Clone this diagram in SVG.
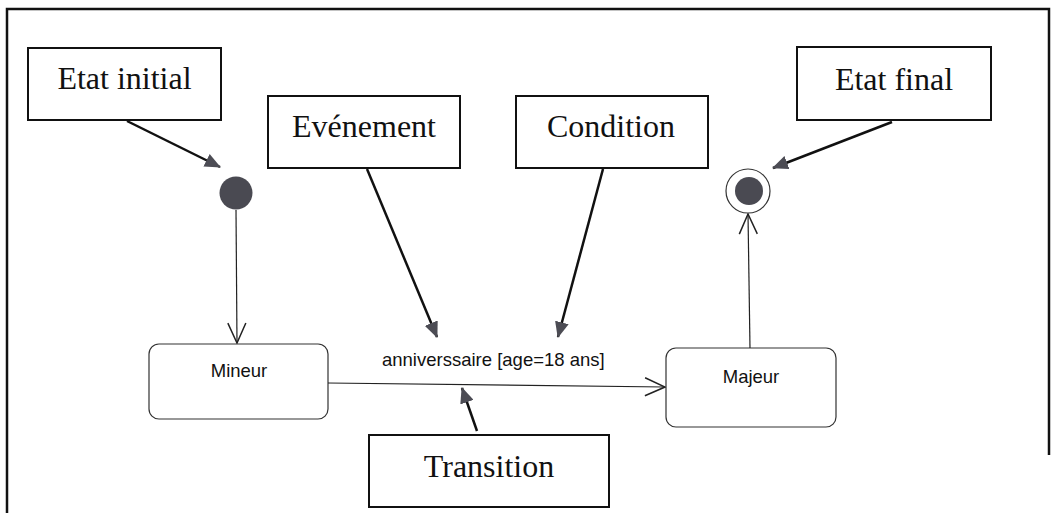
<svg xmlns="http://www.w3.org/2000/svg" width="1053" height="513" viewBox="0 0 1053 513">
  <style>
    .frame { fill: none; stroke: #111; stroke-width: 2.5; }
    .note rect { fill: #fff; stroke: #111; stroke-width: 2; }
    .note text { font-family: "Liberation Serif", "Times New Roman", serif; font-size: 32px; fill: #111; text-anchor: middle; }
    .state rect { fill: #fff; stroke: #333; stroke-width: 1.2; }
    .state text, .label { font-family: "Liberation Sans", Arial, sans-serif; font-size: 18.5px; fill: #111; }
    .state text { text-anchor: middle; }
    .pointer { stroke: #111; stroke-width: 2.5; fill: none; marker-end: url(#solid); }
    .trans { stroke: #222; stroke-width: 1.2; fill: none; marker-end: url(#open); }
  </style>
  <defs>
    <marker id="solid" viewBox="0 0 16 14" refX="15" refY="7" markerWidth="16" markerHeight="14" markerUnits="userSpaceOnUse" orient="auto">
      <path d="M0,0 L16,7 L0,14 z" fill="#4c4c54"/>
    </marker>
    <marker id="open" viewBox="-1 -1 22 20" refX="20" refY="9" markerWidth="22" markerHeight="20" markerUnits="userSpaceOnUse" orient="auto">
      <path d="M0,0 L20,9 L0,18" fill="none" stroke="#222" stroke-width="1.5"/>
    </marker>
  </defs>

  <rect width="1053" height="513" fill="#fff"/>

  <!-- outer frame (open at the bottom) -->
  <path class="frame" d="M7,513 L7,9 L1049,9 L1049,455"/>

  <!-- annotation boxes -->
  <g id="etat-initial" class="note">
    <rect x="28" y="48" width="193" height="72"/>
    <text x="124.5" y="89">Etat initial</text>
  </g>
  <g id="evenement" class="note">
    <rect x="268" y="96" width="192" height="72"/>
    <text x="364" y="137">Evénement</text>
  </g>
  <g id="condition" class="note">
    <rect x="516" y="96" width="192" height="72"/>
    <text x="611" y="137">Condition</text>
  </g>
  <g id="etat-final" class="note">
    <rect x="797" y="47" width="194" height="73"/>
    <text x="894" y="90">Etat final</text>
  </g>
  <g id="transition" class="note">
    <rect x="369" y="435" width="240" height="72"/>
    <text x="489" y="477">Transition</text>
  </g>

  <!-- pseudo-states -->
  <g id="initial">
    <circle cx="236" cy="193" r="16.5" fill="#4a4a52"/>
  </g>
  <g id="final">
    <circle cx="748" cy="191" r="22" fill="#fff" stroke="#333" stroke-width="1.2"/>
    <circle cx="749" cy="191" r="14" fill="#4a4a52"/>
  </g>

  <!-- states -->
  <g id="mineur" class="state">
    <rect x="149" y="344" width="179" height="75" rx="10"/>
    <text x="239" y="377">Mineur</text>
  </g>
  <g id="majeur" class="state">
    <rect x="666" y="348" width="170" height="79" rx="10"/>
    <text x="751" y="383">Majeur</text>
  </g>

  <!-- connectors -->
  <g id="connectors">
    <line class="trans" x1="236" y1="210" x2="237" y2="343"/>
    <line class="trans" x1="328" y1="383" x2="665" y2="387"/>
    <line class="trans" x1="750" y1="348" x2="748" y2="214"/>
    <text class="label" x="382" y="366">anniverssaire [age=18 ans]</text>

    <line class="pointer" x1="127" y1="121" x2="220" y2="167"/>
    <line class="pointer" x1="367" y1="169" x2="437" y2="337"/>
    <line class="pointer" x1="603" y1="169" x2="558" y2="337"/>
    <line class="pointer" x1="892" y1="122" x2="773" y2="168"/>
    <line class="pointer" x1="477" y1="431" x2="462" y2="388"/>
  </g>
</svg>
